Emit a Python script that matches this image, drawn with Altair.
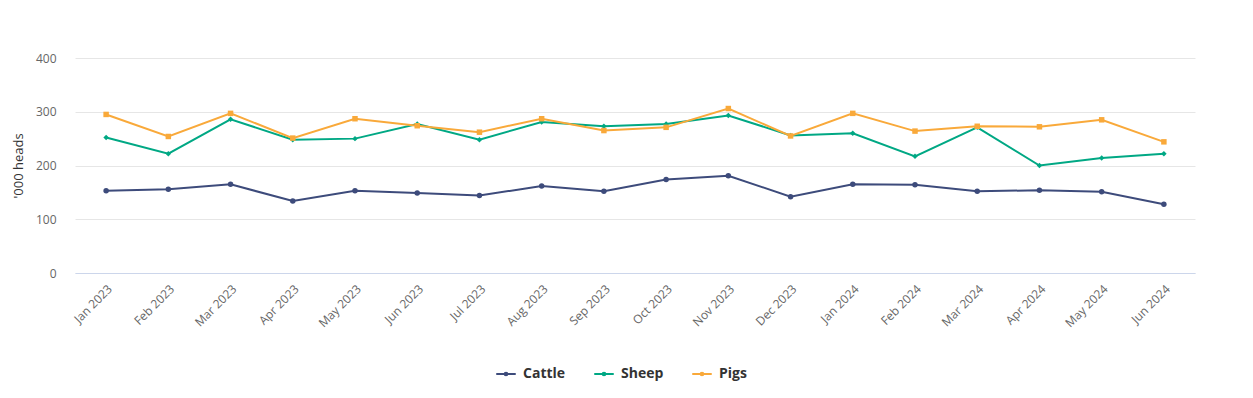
import altair as alt
import pandas as pd

months = ["Jan 2023", "Feb 2023", "Mar 2023", "Apr 2023", "May 2023", "Jun 2023",
          "Jul 2023", "Aug 2023", "Sep 2023", "Oct 2023", "Nov 2023", "Dec 2023",
          "Jan 2024", "Feb 2024", "Mar 2024", "Apr 2024", "May 2024", "Jun 2024"]
cattle = [153, 156, 165, 134, 153, 149, 144, 162, 152, 174, 181, 142, 165, 164, 152, 154, 151, 128]
sheep = [252, 222, 286, 248, 250, 277, 248, 281, 273, 277, 293, 256, 260, 217, 271, 200, 214, 222]
pigs = [295, 254, 297, 251, 287, 274, 262, 287, 265, 271, 306, 255, 297, 264, 273, 272, 285, 244]

series = ["Cattle", "Sheep", "Pigs"]
colors = ["#3d4b7b", "#00a884", "#f9a93a"]
shapes = ["circle", "diamond", "square"]

rows = []
for name, vals in zip(series, [cattle, sheep, pigs]):
    for m, v in zip(months, vals):
        rows.append({"Month": m, "Series": name, "Value": v})
df = pd.DataFrame(rows)

font = "Open Sans"

x = alt.X("Month:N", sort=months, title=None,
          scale=alt.Scale(paddingInner=0, paddingOuter=0.5),
          axis=alt.Axis(labelAngle=-45, labelAlign="right", labelBaseline="top",
                        labelFontSize=12, labelColor="#666666", labelFont=font,
                        labelPadding=10, ticks=False, domainColor="#ccd6eb",
                        domainWidth=1, grid=False))
y = alt.Y("Value:Q", title="'000 heads",
          scale=alt.Scale(domain=[0, 400]),
          axis=alt.Axis(values=[0, 100, 200, 300, 400], labelFontSize=12,
                        labelColor="#666666", labelFont=font, labelPadding=19,
                        ticks=False, domain=False, gridColor="#e6e6e6",
                        titleFont=font, titleFontSize=13, titleColor="#333333",
                        titleFontWeight="normal", titlePadding=10))

legend_path = "M-1,0L1,0M-0.14,0A0.14,0.14 0 1 1 0.14,0A0.14,0.14 0 1 1 -0.14,0Z"

lines = alt.Chart(df).mark_line(strokeWidth=2).encode(
    x=x, y=y,
    color=alt.Color("Series:N", scale=alt.Scale(domain=series, range=colors),
                    sort=series, title=None,
                    legend=alt.Legend(orient="none", legendX=420, legendY=305,
                                      direction="horizontal", symbolType=legend_path,
                                      symbolSize=380, symbolStrokeWidth=2,
                                      labelFont=font, labelFontSize=14,
                                      labelFontWeight="bold", labelColor="#333333",
                                      columnPadding=24, labelOffset=6)),
    detail="Series:N",
)
points = alt.Chart(df).mark_point(filled=True, size=30, opacity=1).encode(
    x=x, y=y,
    color=alt.Color("Series:N", scale=alt.Scale(domain=series, range=colors), legend=None),
    shape=alt.Shape("Series:N", scale=alt.Scale(domain=series, range=shapes), legend=None),
)

chart = alt.layer(lines, points).resolve_scale(
    color="independent", shape="independent"
).properties(
    width=1120, height=215,
    background="white",
    autosize=alt.AutoSizeParams(type="none"),
    padding={"left": 67, "top": 50, "right": 50, "bottom": 117},
).configure_view(stroke=None)

chart.save("out.html", embed_options={"renderer": "svg", "actions": False})
